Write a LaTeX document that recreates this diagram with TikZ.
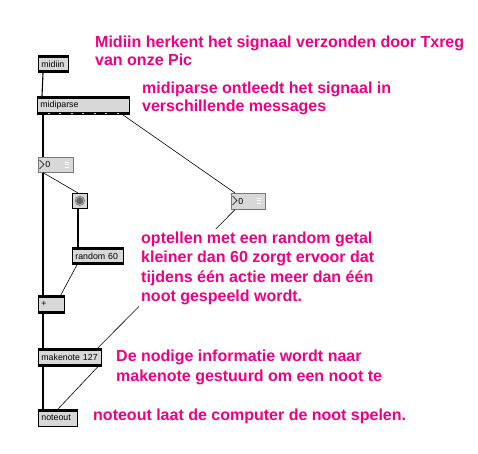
\documentclass[tikz,border=0pt]{standalone}
\usepackage{fontspec}
\setmainfont{Liberation Sans}
\definecolor{pinktext}{RGB}{240,0,128}
\definecolor{boxgray}{RGB}{216,216,216}
\definecolor{nbborder}{RGB}{120,120,120}
\begin{document}
\begin{tikzpicture}[x=1pt,y=-1pt,
  conn/.style={line width=1.1pt,black},
  diag/.style={line width=0.6pt,black},
  maxobj/.style={draw=black,line width=0.8pt,fill=boxgray,anchor=north west,
    inner xsep=3pt,inner ysep=0pt,font=\fontsize{8.8}{10}\selectfont,align=left},
  numbox/.style={draw=nbborder,line width=0.6pt,fill=boxgray,anchor=north west,
    inner xsep=3pt,inner ysep=0pt,font=\fontsize{8.8}{10}\selectfont,align=left},
  bangbox/.style={draw=black,line width=0.6pt,fill=boxgray,anchor=north west,
    inner sep=0pt,minimum width=15pt,minimum height=15pt},
  note/.style={anchor=base west,inner sep=0pt,text=pinktext,
    font=\fontsize{16}{18}\bfseries}
]
\useasboundingbox[fill=white] (0,0) rectangle (478,453);

% objects
\node[maxobj,minimum width=30pt,minimum height=17pt,text width=24pt] (mi) at (38,55) {\hbox{midiin}};
\node[maxobj,minimum width=92pt,minimum height=18pt,text width=86pt] (mp) at (37,96) {\hbox{midiparse}};
\node[numbox,minimum width=35pt,minimum height=15pt,text width=29pt] (nb1) at (38,157) {\hbox{\hspace*{4pt}0}};
\node[bangbox] (bg) at (72,193) {};
\node[maxobj,minimum width=51pt,minimum height=17pt,text width=45pt] (rnd) at (72,247) {\hbox{random 60}};
\node[maxobj,minimum width=26pt,minimum height=18pt,text width=20pt] (pl) at (38,295) {\hbox{+}};
\node[numbox,minimum width=34pt,minimum height=16pt,text width=28pt] (nb2) at (231,193) {\hbox{\hspace*{4pt}0}};
\node[maxobj,minimum width=63pt,minimum height=18pt,text width=57pt] (mk) at (38,348) {\hbox{makenote 127}};
\node[maxobj,minimum width=39pt,minimum height=17pt,text width=33pt] (no) at (38,409) {\hbox{noteout}};

% inlet / outlet bars
\foreach \n in {mi,mp,rnd,pl,mk,no}{
  \fill (\n.north west) rectangle ([yshift=-2.5pt]\n.north east);
}
\foreach \n in {mi,mp,rnd,pl,mk}{
  \fill ([yshift=3pt]\n.south west) rectangle (\n.south east);
}
% outlet separations of midiparse
\foreach \i in {1,...,7}{
  \fill[boxgray] ([xshift={\i*11.5pt-1pt},yshift=1.2pt]mp.south west) rectangle ([xshift={\i*11.5pt+1pt},yshift=1.8pt]mp.south west);
}
% number box triangles and bars
\foreach \n in {nb1,nb2}{
  \draw[line width=0.6pt] ([shift={(1.5pt,-3pt)}]\n.north west) -- ([shift={(6pt,-7.5pt)}]\n.north west) -- ([shift={(1.5pt,-12pt)}]\n.north west);
  \draw[line width=0.4pt,white] ([shift={(-9pt,-5pt)}]\n.north east) -- ([shift={(-5pt,-5pt)}]\n.north east)
    ([shift={(-9pt,-7.5pt)}]\n.north east) -- ([shift={(-5pt,-7.5pt)}]\n.north east)
    ([shift={(-9pt,-10pt)}]\n.north east) -- ([shift={(-5pt,-10pt)}]\n.north east);
}
% bang circle
\fill[gray!80!black] (bg.center) circle (5pt);
\draw[gray!40,line width=0.5pt] (bg.center) circle (4pt);

% connectors
\draw[conn] ([xshift=5pt]mi.south west) -- ([xshift=5pt]mp.north west);
\draw[conn] ([xshift=6pt]mp.south west) -- ([xshift=5pt]nb1.north west);
\draw[conn] ([xshift=5pt]nb1.south west) -- ([xshift=5pt]pl.north west);
\draw[diag] ([xshift=5pt]nb1.south west) -- ([xshift=6pt]bg.north west);
\draw[conn] ([xshift=6pt]bg.south west) -- ([xshift=6pt]rnd.north west);
\draw[diag] ([xshift=5pt]rnd.south west) -- ([xshift=-4pt]pl.north east);
\draw[conn] ([xshift=5pt]pl.south west) -- ([xshift=5pt]mk.north west);
\draw[diag] ([xshift=-7pt]mp.south east) -- ([xshift=4pt]nb2.north west);
\draw[diag] ([xshift=4pt]nb2.south west) -- ([xshift=-4pt]mk.north east);
\draw[conn] ([xshift=5pt]mk.south west) -- ([xshift=5pt]no.north west);
\draw[diag] ([xshift=-4pt]mk.south east) -- ([xshift=20pt]no.north west);

% notes
\node[note] (t1) at (95,47) {\vtop{\baselineskip=18pt\hbox{Midiin herkent het signaal verzonden door Txreg}\hbox{van onze Pic}}};
\node[note] (t2) at (142,93) {\vtop{\baselineskip=18pt\hbox{midiparse ontleedt het signaal in}\hbox{verschillende messages}}};
\node[note,fill=white,inner xsep=2pt,inner ysep=2pt] (t3) at (139,243) {\vtop{\baselineskip=19.5pt\hbox{optellen met een random getal}\hbox{kleiner dan 60 zorgt ervoor dat}\hbox{tijdens één actie meer dan één}\hbox{noot gespeeld wordt.}}};
\node[note] (t4) at (116,361) {\vtop{\baselineskip=20pt\hbox{De nodige informatie wordt naar}\hbox{makenote gestuurd om een noot te}}};
\node[note] (t5) at (93,420) {noteout laat de computer de noot spelen.};
\end{tikzpicture}
\end{document}
